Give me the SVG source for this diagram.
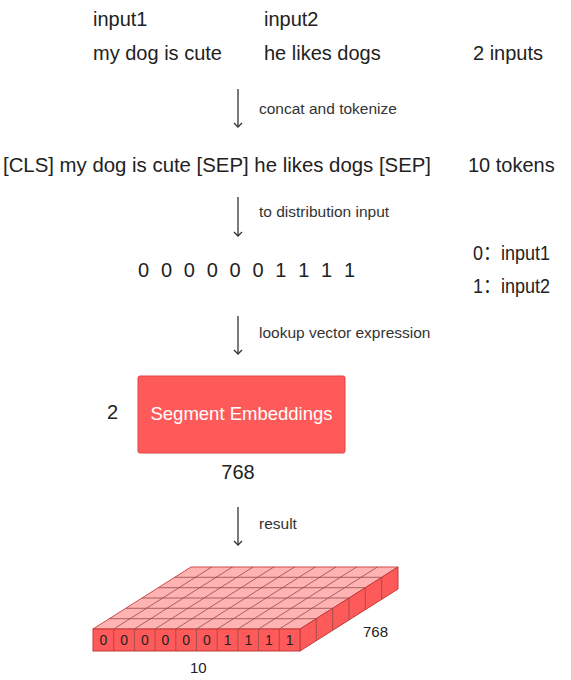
<svg xmlns="http://www.w3.org/2000/svg" width="571" height="680" viewBox="0 0 571 680">
<defs>
<style>
text{font-family:"Liberation Sans","Noto Sans CJK SC",sans-serif;fill:#222}
.big{font-size:20px}
.lbl{font-size:15.5px;fill:#333}
.cell{font-size:14px;fill:#222;text-anchor:middle}
.conn line{stroke:#333;stroke-width:1.3;marker-end:url(#ah)}
.front{fill:#FF5A5A;stroke:#C23A3A;stroke-width:1}
.top{fill:#FFB3B3;stroke:#D14B4B;stroke-width:1}
.side{fill:#FF5A5A;stroke:#C23A3A;stroke-width:1}
.grid{stroke:#8F4A4A;stroke-width:0.8;fill:none}
</style>
<marker id="ah" viewBox="0 0 10 10" refX="9" refY="5" markerWidth="10" markerHeight="10" markerUnits="userSpaceOnUse" orient="auto">
<path d="M5,1 L9,5 L5,9" fill="none" stroke="#333" stroke-width="1.3"/>
</marker>
</defs>
<rect width="571" height="680" fill="#fff"/>
<g id="inputs">
<text class="big" x="93" y="26">input1</text>
<text class="big" x="264" y="26">input2</text>
<text class="big" x="93" y="60">my dog is cute</text>
<text class="big" x="264" y="60">he likes dogs</text>
<text class="big" x="473" y="60">2 inputs</text>
</g>
<g id="tokens">
<text class="big" x="3" y="172" textLength="428" lengthAdjust="spacingAndGlyphs">[CLS] my dog is cute [SEP] he likes dogs [SEP]</text>
<text class="big" x="468" y="172">10 tokens</text>
</g>
<g id="distribution">
<text class="big" x="138" y="277" textLength="217" lengthAdjust="spacing">0 0 0 0 0 0 1 1 1 1</text>
<text class="big" x="473" y="260" textLength="77" lengthAdjust="spacingAndGlyphs">0：input1</text>
<text class="big" x="473" y="293" textLength="77" lengthAdjust="spacingAndGlyphs">1：input2</text>
</g>
<g id="segment-embeddings">
<rect x="138" y="376" width="207" height="77" rx="2" fill="#FF5A5A" stroke="#E04444" stroke-width="1"/>
<text x="241.5" y="420" text-anchor="middle" style="font-size:18.5px;fill:#fff">Segment Embeddings</text>
<text class="big" x="107" y="419">2</text>
<text class="big" x="238" y="479" text-anchor="middle">768</text>
</g>
<g id="result-tensor">
<polygon class="top" points="93,629 191,567 398,567 300,629"/>
<polygon class="side" points="300,629 398,567 398,589 300,651"/>
<rect class="front" x="93" y="629" width="207" height="22"/>
<path class="grid" d="M113.7,629 L211.7,567 M134.4,629 L232.4,567 M155.1,629 L253.1,567 M175.8,629 L273.8,567 M196.5,629 L294.5,567 M217.2,629 L315.2,567 M237.9,629 L335.9,567 M258.6,629 L356.6,567 M279.3,629 L377.3,567 M109.3,618.7 L316.3,618.7 M125.7,608.3 L332.7,608.3 M142,598 L349,598 M158.3,587.7 L365.3,587.7 M174.7,577.3 L381.7,577.3"/>
<path class="grid" d="M113.7,629 V651 M134.4,629 V651 M155.1,629 V651 M175.8,629 V651 M196.5,629 V651 M217.2,629 V651 M237.9,629 V651 M258.6,629 V651 M279.3,629 V651 M316.3,618.7 V640.7 M332.7,608.3 V630.3 M349,598 V620 M365.3,587.7 V609.7 M381.7,577.3 V599.3"/>
<text class="cell" x="103.4" y="645">0</text>
<text class="cell" x="124.1" y="645">0</text>
<text class="cell" x="144.8" y="645">0</text>
<text class="cell" x="165.5" y="645">0</text>
<text class="cell" x="186.2" y="645">0</text>
<text class="cell" x="206.9" y="645">0</text>
<text class="cell" x="227.6" y="645">1</text>
<text class="cell" x="248.3" y="645">1</text>
<text class="cell" x="269" y="645">1</text>
<text class="cell" x="289.7" y="645">1</text>
<text x="363" y="637" style="font-size:15px">768</text>
<text x="190" y="673" style="font-size:15px">10</text>
</g>
<g id="connectors" class="conn">
<line x1="238" y1="89" x2="238" y2="127"/>
<line x1="238" y1="197" x2="238" y2="236"/>
<line x1="238" y1="316" x2="238" y2="354"/>
<line x1="238" y1="507" x2="238" y2="545"/>
</g>
<g id="connector-labels">
<text class="lbl" x="259" y="114">concat and tokenize</text>
<text class="lbl" x="259" y="217">to distribution input</text>
<text class="lbl" x="259" y="338">lookup vector expression</text>
<text class="lbl" x="259" y="529">result</text>
</g>
</svg>
